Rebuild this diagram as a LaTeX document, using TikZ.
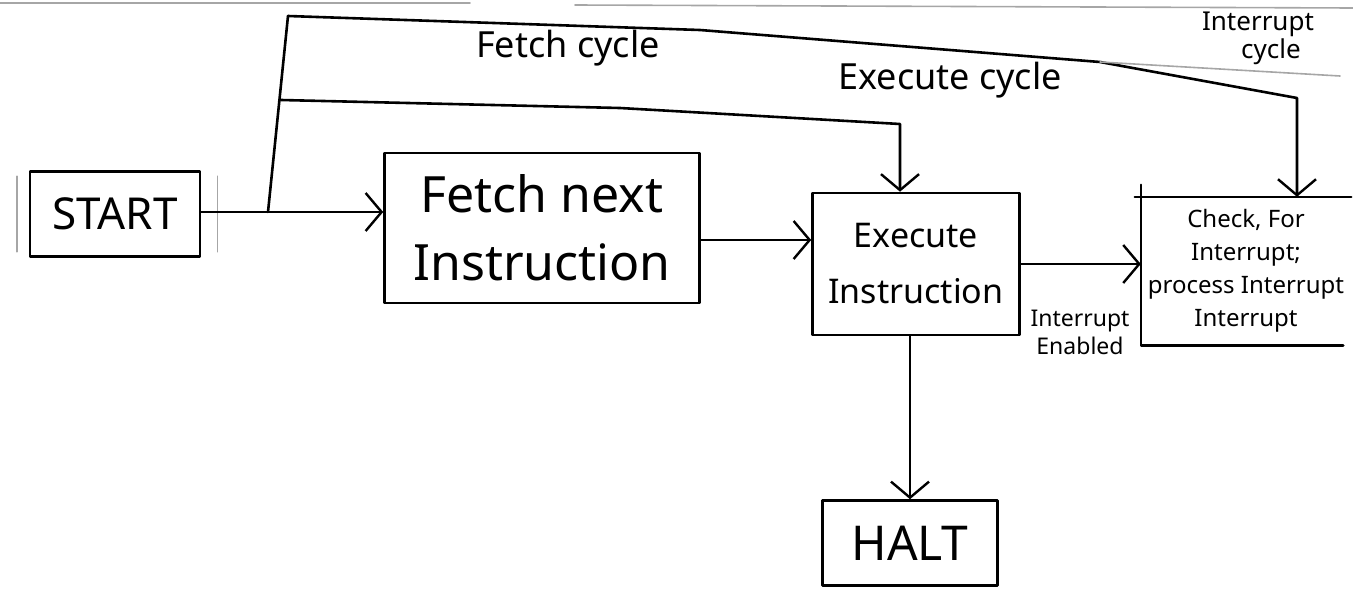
\documentclass[tikz,border=0pt]{standalone}
\usepackage{fontspec}
\setmainfont{Noto Sans}
\usetikzlibrary{arrows.meta}

\begin{document}
\begin{tikzpicture}[x=1pt,y=-1pt,
  ink/.style={line width=2.6pt,black,line cap=round,line join=round},
  faint/.style={line width=1.6pt,black!35,line cap=round},
  arr/.style={ink,-{Straight Barb[length=16pt,width=38pt,line width=2.4pt]}},
  box/.style={ink,draw,rectangle,align=center,inner sep=0pt},
  lbl/.style={inner sep=0pt,align=center}
]
\useasboundingbox (0,0) rectangle (1353,592);

% paper edge strokes along the top
\draw[faint] (0,3) -- (470,3);
\draw[faint] (575,5) -- (1353,8);

% blocks
\node[box,minimum width=170pt,minimum height=85pt,font=\fontsize{44}{50}\selectfont]
  (start) at (115,214) {START};
\draw[faint] ([xshift=-12pt,yshift=-6pt]start.north west) -- ([xshift=-12pt,yshift=6pt]start.south west);
\draw[faint] ([xshift=16pt,yshift=-6pt]start.north east) -- ([xshift=16pt,yshift=6pt]start.south east);

\node[box,minimum width=315pt,minimum height=150pt,font=\fontsize{50}{68}\selectfont]
  (fetch) at (542,228) {Fetch next\\Instruction};

\node[box,minimum width=207pt,minimum height=142pt,font=\fontsize{34}{56}\selectfont]
  (exec) at (916,264) {Execute\\Instruction};

\node[lbl,minimum width=210pt,minimum height=148pt,font=\fontsize{24}{33}\selectfont]
  (check) at (1246,271) {Check, For\\Interrupt;\\process Interrupt\\Interrupt};
\draw[ink] ([xshift=-6pt]check.north west) -- (check.north east);
\draw[ink] ([yshift=12pt]check.north west) -- (check.south west) -- ([xshift=-8pt]check.south east);

\node[box,minimum width=175pt,minimum height=85pt,font=\fontsize{48}{54}\selectfont]
  (halt) at (910,543) {HALT};

% routing points of the cycle lines
\coordinate (b) at (268,212);
\coordinate (t1) at (288,16);
\coordinate (t2) at (700,30);
\coordinate (t3) at (1100,62);
\coordinate (t4) at (1297,98);
\coordinate (s1) at (281,100);
\coordinate (s2) at (620,108);
\coordinate (s3) at (900,124);
\coordinate (fe) at (0,240);

% connectors
\draw[arr] (start.east |- b) -- (b) -- (fetch.west |- b);
\draw[ink] (b) -- (t1);
\draw[arr] (t1) -- (t2) -- (t3) -- (t4) -- (t4 |- check.north);
\draw[faint] (t3) -- (1340,76);
\draw[arr] (s1) -- (s2) -- (s3) -- (s3 |- exec.north);
\draw[arr] (fetch.east |- fe) -- (exec.west |- fe);
\draw[arr] (exec.east) -- (exec.east -| check.west);
\draw[arr] (exec.south -| halt.north) -- (halt.north);

% cycle and condition labels
\node[lbl,font=\fontsize{36}{38}\selectfont] (lf) at (568,48) {Fetch cycle};
\node[lbl,font=\fontsize{36}{38}\selectfont] (le) at (950,80) {Execute cycle};
\node[lbl,font=\fontsize{26}{28}\selectfont] (li) at (1258,38) {Interrupt\\\hspace*{26pt}cycle};
\node[lbl,font=\fontsize{23}{28}\selectfont] (len) at (1080,332) {Interrupt\\Enabled};
\end{tikzpicture}
\end{document}
